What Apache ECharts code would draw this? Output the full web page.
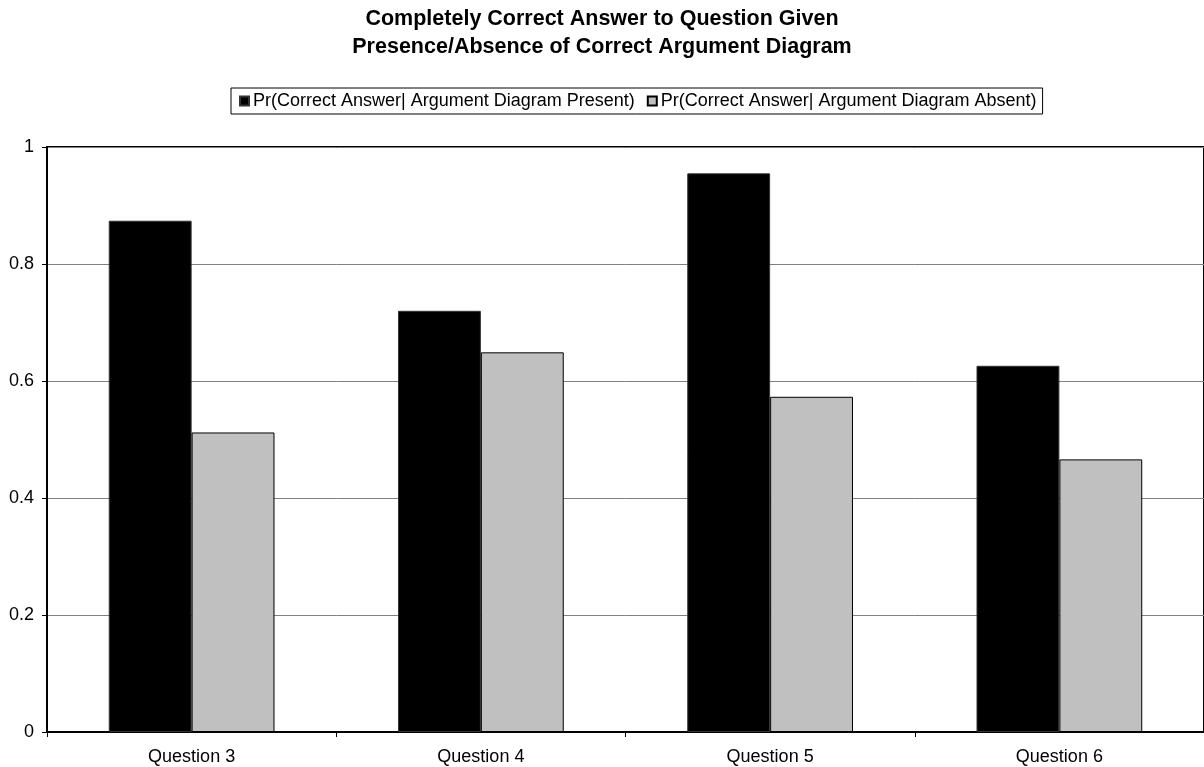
<!DOCTYPE html>
<html>
<head>
<meta charset="utf-8">
<script src="https://cdn.jsdelivr.net/npm/echarts@6/dist/echarts.min.js"></script>
<style>
  html, body { margin: 0; padding: 0; background: #fff; }
  #chart { width: 1204px; height: 767px; }
</style>
</head>
<body>
<div id="chart"></div>
<script>
// Questions on the x-axis
const categories = ['Question 3', 'Question 4', 'Question 5', 'Question 6'];
// Probability of a completely correct answer, by diagram presence
const diagramPresent = [0.874, 0.720, 0.955, 0.626];
const diagramAbsent = [0.512, 0.649, 0.573, 0.466];
const seriesNames = [
  'Pr(Correct Answer| Argument Diagram Present)',
  'Pr(Correct Answer| Argument Diagram Absent)'
];

const font = 'Liberation Sans, Arial, sans-serif';
const chart = echarts.init(document.getElementById('chart'), null, { renderer: 'canvas' });

chart.setOption({
  backgroundColor: '#ffffff',
  animation: false,
  title: {
    text: 'Completely Correct Answer to Question Given\nPresence/Absence of Correct Argument Diagram',
    left: 'center',
    top: 0,
    textStyle: {
      fontFamily: font,
      fontSize: 21.5,
      fontWeight: 'bold',
      color: '#000',
      lineHeight: 28
    }
  },
  legend: {
    left: 231,
    top: 88,
    orient: 'horizontal',
    icon: 'rect',
    itemWidth: 9,
    itemHeight: 9,
    itemGap: 12,
    padding: [4, 6, 4, 8],
    borderColor: '#000',
    borderWidth: 1,
    textStyle: { fontFamily: font, fontSize: 18, color: '#000', padding: [0, 0, 0, -1] },
    data: seriesNames
  },
  grid: {
    left: 47,
    top: 147,
    width: 1164,
    height: 585,
    show: true,
    borderColor: '#000',
    borderWidth: 2,
    containLabel: false
  },
  xAxis: {
    type: 'category',
    data: categories,
    axisLine: { show: true, lineStyle: { color: '#000', width: 2 } },
    axisTick: { show: true, alignWithLabel: false, length: 5, lineStyle: { color: '#000' } },
    axisLabel: { fontFamily: font, fontSize: 18, color: '#000', margin: 16 },
    splitLine: { show: false }
  },
  yAxis: {
    type: 'value',
    min: 0,
    max: 1,
    interval: 0.2,
    axisLine: { show: true, lineStyle: { color: '#000', width: 2 } },
    axisTick: { show: true, length: 5, lineStyle: { color: '#000' } },
    axisLabel: { fontFamily: font, fontSize: 18, color: '#000', margin: 13 },
    splitLine: { show: true, lineStyle: { color: '#808080', width: 1 } }
  },
  series: [
    {
      name: seriesNames[0],
      type: 'bar',
      data: diagramPresent,
      barGap: '0%',
      barCategoryGap: '42.7%',
      itemStyle: { color: '#000000', borderColor: '#333', borderWidth: 1 }
    },
    {
      name: seriesNames[1],
      type: 'bar',
      data: diagramAbsent,
      barGap: '0%',
      barCategoryGap: '42.7%',
      itemStyle: { color: '#c0c0c0', borderColor: '#000', borderWidth: 1 }
    }
  ]
});
</script>
</body>
</html>
